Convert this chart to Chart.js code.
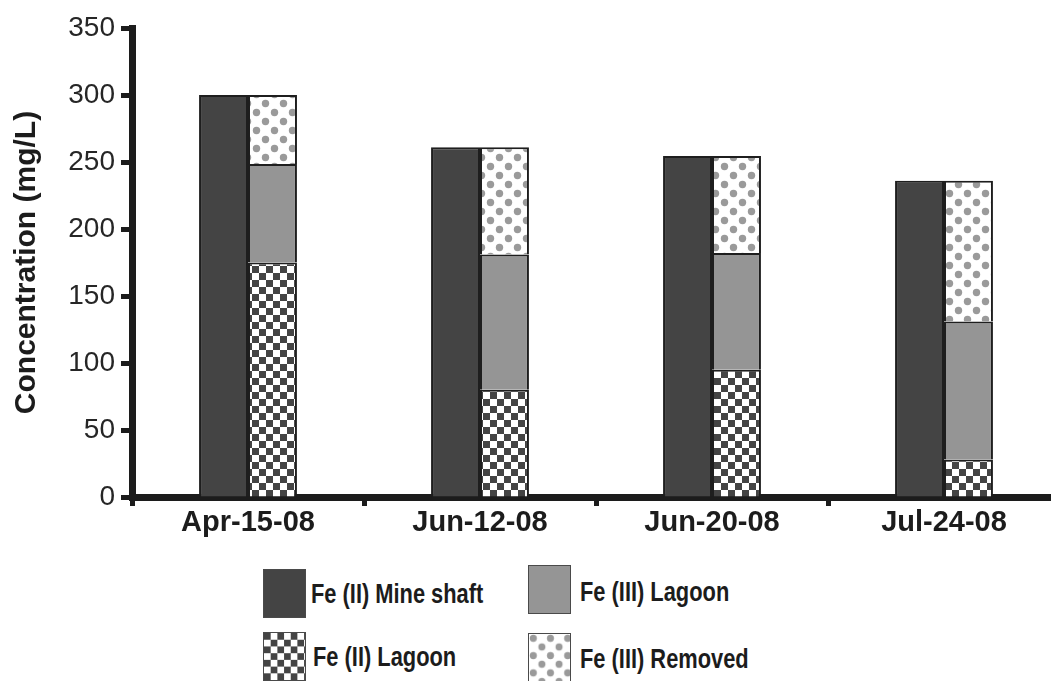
<!DOCTYPE html>
<html>
<head>
<meta charset="utf-8">
<script src="https://cdn.jsdelivr.net/npm/chart.js@4.4.0/dist/chart.umd.min.js"></script>
<style>
  html, body { margin: 0; padding: 0; background: #fff; }
  #wrap { position: relative; width: 1051px; height: 681px; overflow: hidden; }
  #chart { position: absolute; left: 0; top: 0; }
  .swatch { position: absolute; width: 43px; height: 49px; box-sizing: border-box; border: 1px solid #4a4a4a; }
  .keytext {
    position: absolute; white-space: nowrap; line-height: 28px;
    font: bold 28px 'Liberation Sans', Arial, sans-serif; color: #1c1c1c;
    transform: scaleX(0.78); transform-origin: left center;
  }
</style>
</head>
<body>
<div id="wrap">
  <canvas id="chart" width="1062" height="545"></canvas>

  <canvas class="swatch" id="keyMine" width="43" height="49" style="left:263px;top:569px"></canvas>
  <div class="keytext" style="left:311px;top:578px">Fe (II) Mine shaft</div>

  <canvas class="swatch" id="keyFe3Lagoon" width="43" height="49" style="left:528px;top:565px"></canvas>
  <div class="keytext" style="left:580px;top:576px">Fe (III) Lagoon</div>

  <canvas class="swatch" id="keyFe2Lagoon" width="43" height="49" style="left:263px;top:632px"></canvas>
  <div class="keytext" style="left:313px;top:641px">Fe (II) Lagoon</div>

  <canvas class="swatch" id="keyRemoved" width="43" height="49" style="left:528px;top:633px"></canvas>
  <div class="keytext" style="left:580px;top:643px">Fe (III) Removed</div>
</div>

<script>
// sampling dates
const dates = ['Apr-15-08', 'Jun-12-08', 'Jun-20-08', 'Jul-24-08'];

// concentrations, mg/L
const fe2MineShaft = [300, 261, 254.5, 236];
const fe2Lagoon = [175, 80, 95, 28];
const fe3Lagoon = [73.5, 101, 87, 103];
const fe3Removed = [51.5, 80, 72.5, 105];

// y axis range
const yMin = 0;
const yMax = 350;
const yStep = 50;

const FONT = "'Liberation Sans', Arial, sans-serif";
const INK = '#1c1c1c';
const DARK = '#444444';
const MID = '#959595';

// checkerboard tile for Fe(II) lagoon
function checkerTile() {
    const c = document.createElement('canvas');
    c.width = 14; c.height = 14;
    const g = c.getContext('2d');
    g.fillStyle = '#fff';
    g.fillRect(0, 0, 14, 14);
    g.fillStyle = DARK;
    g.fillRect(0, 0, 7, 7);
    g.fillRect(7, 7, 7, 7);
    return c;
}

// staggered gray dots for Fe(III) removed
function dotTile() {
    const c = document.createElement('canvas');
    c.width = 18; c.height = 18;
    const g = c.getContext('2d');
    g.fillStyle = '#fff';
    g.fillRect(0, 0, 18, 18);
    g.fillStyle = '#9a9a9a';
    [[4.5, 4.5], [13.5, 13.5]].forEach(([x, y]) => {
        g.beginPath();
        g.arc(x, y, 3.7, 0, Math.PI * 2);
        g.fill();
    });
    return c;
}

const ctx = document.getElementById('chart').getContext('2d');
const checker = ctx.createPattern(checkerTile(), 'repeat');
const dots = ctx.createPattern(dotTile(), 'repeat');

// legend swatches
function paintSwatch(id, fill) {
    const g = document.getElementById(id).getContext('2d');
    g.fillStyle = typeof fill === 'string' ? fill : g.createPattern(fill, 'repeat');
    g.fillRect(0, 0, 43, 49);
}
paintSwatch('keyMine', DARK);
paintSwatch('keyFe3Lagoon', MID);
paintSwatch('keyFe2Lagoon', checkerTile());
paintSwatch('keyRemoved', dotTile());

const barStyle = {
    borderColor: '#1e1e1e',
    borderWidth: 2,
    barPercentage: 1,
    categoryPercentage: 0.422
};

new Chart(ctx, {
    type: 'bar',
    data: {
        labels: dates,
        datasets: [
            { label: 'Fe (II) Mine shaft', data: fe2MineShaft, backgroundColor: DARK, stack: 'shaft', ...barStyle },
            { label: 'Fe (II) Lagoon', data: fe2Lagoon, backgroundColor: checker, stack: 'lagoon', ...barStyle },
            { label: 'Fe (III) Lagoon', data: fe3Lagoon, backgroundColor: MID, stack: 'lagoon', ...barStyle },
            { label: 'Fe (III) Removed', data: fe3Removed, backgroundColor: dots, stack: 'lagoon', ...barStyle }
        ]
    },
    options: {
        responsive: false,
        animation: false,
        devicePixelRatio: 1,
        layout: { padding: { top: 28, right: 2, left: 0, bottom: 0 } },
        plugins: {
            legend: { display: false },
            tooltip: { enabled: false }
        },
        scales: {
            x: {
                stacked: true,
                grid: {
                    offset: true,
                    drawOnChartArea: false,
                    tickLength: 9,
                    tickWidth: 5,
                    tickColor: INK
                },
                border: { width: 7, color: INK },
                ticks: {
                    font: { family: FONT, size: 29, weight: 'bold' },
                    color: INK,
                    padding: 0
                },
                afterFit: scale => { scale.height = 48; }
            },
            y: {
                stacked: true,
                min: yMin,
                max: yMax,
                grid: {
                    drawOnChartArea: false,
                    tickLength: 11,
                    tickWidth: 5,
                    tickColor: INK
                },
                border: { width: 7, color: INK },
                ticks: {
                    stepSize: yStep,
                    font: { family: FONT, size: 28 },
                    color: '#262626',
                    padding: 6
                },
                title: {
                    display: true,
                    text: 'Concentration (mg/L)',
                    font: { family: FONT, size: 30, weight: 'bold' },
                    color: INK,
                    padding: { top: 9, bottom: 0 }
                },
                afterFit: scale => { scale.width = 132; }
            }
        }
    }
});
</script>
</body>
</html>
